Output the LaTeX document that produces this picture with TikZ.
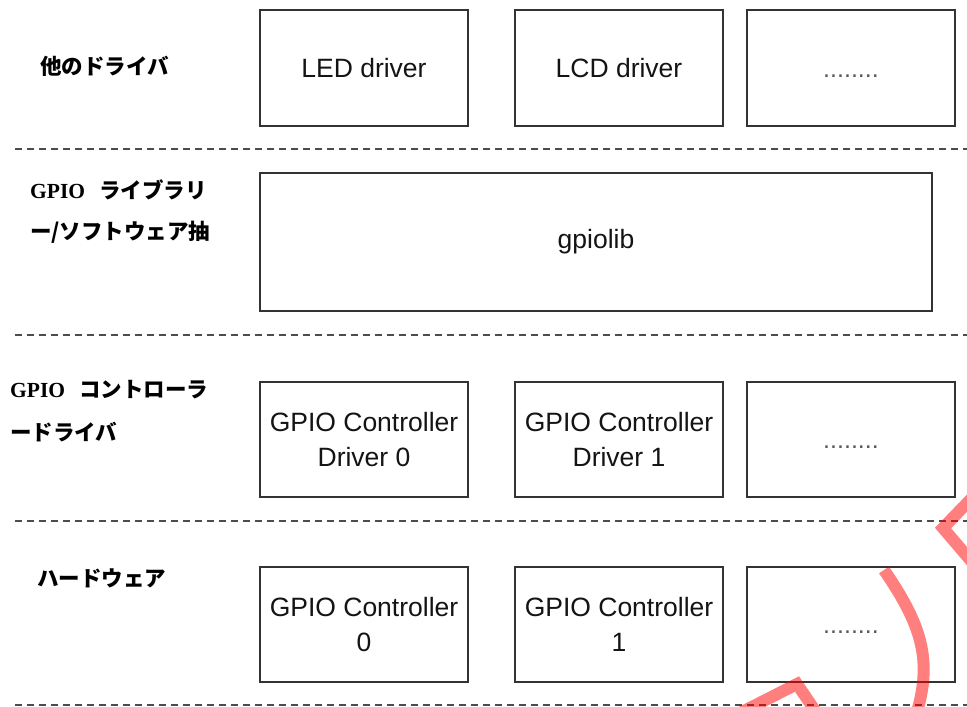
\documentclass[tikz,border=0pt]{standalone}
\usepackage{fontspec}
\setmainfont{Liberation Sans}
\newfontfamily\jpfont{Noto Sans CJK JP}
\newfontfamily\latserif{Liberation Serif}
\begin{document}
\begin{tikzpicture}[x=1pt,y=-1pt,
  box/.style={draw=black!80, line width=1.8pt, fill=white, rectangle, inner sep=0pt,
    minimum width=208pt, minimum height=116pt, align=center,
    font=\fontsize{26.5}{35}\selectfont, text=black!92},
  dots/.style={text=black!65, yshift=-8pt},
  sep/.style={draw=black!70, line width=2.6pt, dash pattern=on 7pt off 5pt},
  lab/.style={anchor=west, inner sep=0pt, font=\jpfont\bfseries\fontsize{21.5}{24}\selectfont},
  redstroke/.style={draw=red, draw opacity=0.5, line width=12pt}]
\useasboundingbox (0,0) rectangle (967,707);
\fill[white] (0,0) rectangle (967,707);
% separators
\coordinate (s1a) at (15,149); \coordinate (s1b) at (967,149);
\coordinate (s2a) at (15,335); \coordinate (s2b) at (967,335);
\coordinate (s3a) at (15,521); \coordinate (s3b) at (967,521);
\coordinate (s4a) at (15,705); \coordinate (s4b) at (967,705);
\draw[sep] (s1a) -- (s1b);
\draw[sep] (s2a) -- (s2b);
\draw[sep] (s3a) -- (s3b);
\draw[sep] (s4a) -- (s4b);
% row 1
\node[box] (led) at (364,68) {LED driver};
\node[box] (lcd) at (619,68) {LCD driver};
\node[box] (etc1) at (851,68) {};
\node[dots, font=\fontsize{25}{30}\selectfont] (d1) at (etc1.center) {........};
% row 2
\node[box, minimum width=672pt, minimum height=138pt] (gpiolib) at (596,242) {gpiolib};
% row 3
\node[box, minimum height=115pt] (gcd0) at (364,439.5) {GPIO Controller\\Driver 0};
\node[box, minimum height=115pt] (gcd1) at (619,439.5) {GPIO Controller\\Driver 1};
\node[box, minimum height=115pt] (etc3) at (851,439.5) {};
\node[dots, font=\fontsize{25}{30}\selectfont] (d3) at (etc3.center) {........};
% row 4
\node[box, minimum height=115pt] (gc0) at (364,624.5) {GPIO Controller\\0};
\node[box, minimum height=115pt] (gc1) at (619,624.5) {GPIO Controller\\1};
\node[box, minimum height=115pt] (etc4) at (851,624.5) {};
\node[dots, font=\fontsize{25}{30}\selectfont] (d4) at (etc4.center) {........};
% labels
\node[lab] (l1) at (40,66) {他のドライバ};
\node[lab] (l2a) at (30,190) {{\latserif\fontsize{21.5}{24}\selectfont GPIO}\hspace{9pt} ライブラリ};
\node[lab] (l2b) at (30,232) {ー/ソフトウェア抽};
\node[lab] (l3a) at (10,390) {{\latserif\fontsize{21.5}{24}\selectfont GPIO}\hspace{9pt} コントローラ};
\node[lab] (l3b) at (10,432) {ードライバ};
\node[lab] (l4) at (37,578) {ハードウェア};
% red marks
\draw[redstroke] (972,498) -- (943,528) -- (972,562);
\draw[redstroke] (884,570) .. controls (922,625) and (932,660) .. (917,712);
\draw[redstroke] (738,714) -- (797,684) -- (816,712);
\end{tikzpicture}
\end{document}
